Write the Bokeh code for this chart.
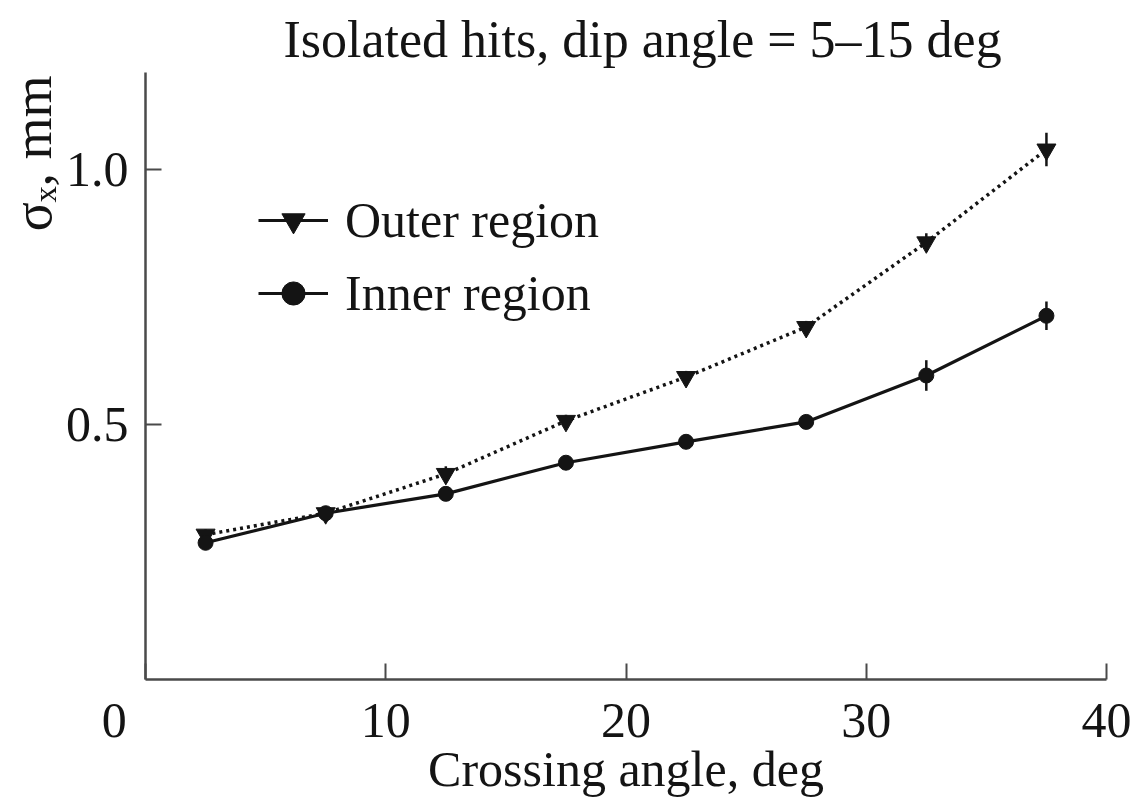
import numpy as np
from bokeh.plotting import figure
from bokeh.models import (Range1d, FixedTicker, Legend, LegendItem, Title,
                          ColumnDataSource, PrintfTickFormatter)
from bokeh.embed import file_html
from bokeh.resources import INLINE

# Crossing-angle bins (deg) and spatial resolution sigma_x (mm)
crossing_angle = [2.5, 7.5, 12.5, 17.5, 22.5, 27.5, 32.5, 37.5]
sigma_outer = [0.284, 0.326, 0.403, 0.507, 0.593, 0.691, 0.857, 1.039]
sigma_inner = [0.268, 0.326, 0.364, 0.425, 0.466, 0.505, 0.596, 0.713]
err_outer = [0.010, 0.010, 0.015, 0.012, 0.012, 0.012, 0.018, 0.033]
err_inner = [0.010, 0.010, 0.012, 0.012, 0.012, 0.012, 0.030, 0.028]

x_ticks = [0, 10, 20, 30, 40]
y_ticks = [0.5, 1.0]

FONT = "Liberation Serif"
INK = "#141414"
AXIS = "#4a4a4a"

p = figure(width=1137, height=808, output_backend="svg", toolbar_location=None,
           x_range=Range1d(0, 40), y_range=Range1d(0, 1.19),
           min_border_left=145, min_border_right=31,
           min_border_top=72, min_border_bottom=129)
p.outline_line_color = None
p.grid.visible = False
p.background_fill_color = "white"
p.border_fill_color = "white"

# chart title
p.title.text = "Isolated hits, dip angle = 5–15 deg"
p.title.align = "left"
p.title.offset = 138
p.title.text_font = FONT
p.title.text_font_size = "52px"
p.title.text_font_style = "normal"
p.title.text_color = INK

# y-axis title, set against the top of the axis
p.add_layout(Title(text="σₓ, mm", align="right", offset=3, standoff=0,
                   vertical_align="bottom", text_font=FONT,
                   text_font_size="54px", text_font_style="normal",
                   text_color=INK), "left")

outer = ColumnDataSource(dict(
    x=crossing_angle, y=sigma_outer,
    lo=[v - e for v, e in zip(sigma_outer, err_outer)],
    hi=[v + e for v, e in zip(sigma_outer, err_outer)]))
inner = ColumnDataSource(dict(
    x=crossing_angle, y=sigma_inner,
    lo=[v - e for v, e in zip(sigma_inner, err_inner)],
    hi=[v + e for v, e in zip(sigma_inner, err_inner)]))

# error bars
p.segment(x0="x", y0="lo", x1="x", y1="hi", source=outer, line_color=INK, line_width=2.5)
p.segment(x0="x", y0="lo", x1="x", y1="hi", source=inner, line_color=INK, line_width=2.5)

# outer region: dotted line with inverted triangles
p.line("x", "y", source=outer, line_color=INK, line_width=3.5, line_dash="3 4")
p.scatter("x", "y", source=outer, marker="inverted_triangle", size=19,
          fill_color=INK, line_color=INK)

# inner region: solid line with filled circles
p.line("x", "y", source=inner, line_color=INK, line_width=3.2)
p.scatter("x", "y", source=inner, marker="circle", size=15,
          fill_color=INK, line_color=INK)

# legend samples (solid lines for both series); NaN rows keep them off the plot
blank = ColumnDataSource(dict(x=[np.nan], y=[np.nan]))
lo_line = p.line("x", "y", source=blank, line_color=INK, line_width=3)
lo_mark = p.scatter("x", "y", source=blank, marker="inverted_triangle", size=12,
                    fill_color=INK, line_color=INK)
li_line = p.line("x", "y", source=blank, line_color=INK, line_width=3)
li_mark = p.scatter("x", "y", source=blank, marker="circle", size=11,
                    fill_color=INK, line_color=INK)
legend = Legend(items=[LegendItem(label="Outer region", renderers=[lo_line, lo_mark]),
                       LegendItem(label="Inner region", renderers=[li_line, li_mark])],
                location=(113, 357), padding=0, margin=0, spacing=15,
                glyph_width=70, glyph_height=58, label_height=58,
                label_standoff=17, border_line_color=None,
                background_fill_alpha=0,
                label_text_font=FONT, label_text_font_size="50px",
                label_text_color=INK)
p.add_layout(legend)

# axes
for ax in (p.xaxis[0], p.yaxis[0]):
    ax.axis_line_color = AXIS
    ax.axis_line_width = 2.5
    ax.major_tick_line_color = AXIS
    ax.major_tick_line_width = 2
    ax.major_tick_in = 16
    ax.major_tick_out = 0
    ax.minor_tick_line_color = None
    ax.major_label_text_font = FONT
    ax.major_label_text_font_size = "50px"
    ax.major_label_text_color = INK

p.xaxis.ticker = FixedTicker(ticks=x_ticks)
p.yaxis.ticker = FixedTicker(ticks=y_ticks)
p.yaxis.formatter = PrintfTickFormatter(format="%.1f")
# the origin label sits left of the corner
p.xaxis.major_label_overrides = {0: "0" + "\u00a0" * 5}
p.xaxis.major_label_standoff = 12
p.yaxis.major_label_standoff = 17

p.xaxis.axis_label = "Crossing angle, deg"
p.xaxis.axis_label_text_font = FONT
p.xaxis.axis_label_text_font_size = "50px"
p.xaxis.axis_label_text_font_style = "normal"
p.xaxis.axis_label_text_color = INK
p.xaxis.axis_label_standoff = -10

open("out.html", "w").write(file_html(p, INLINE))
